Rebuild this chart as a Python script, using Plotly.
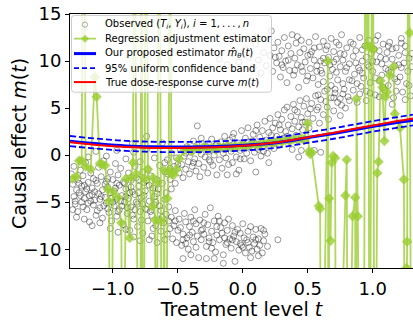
import plotly.graph_objects as go

# ---------------- data ----------------
obs_lower_left = [
    (-1.32,-2.0),(-1.31,-3.1),(-1.30,-4.4),(-1.30,-1.2),(-1.29,-5.2),(-1.28,-3.7),(-1.27,-2.6),(-1.27,-6.0),
    (-1.26,-4.0),(-1.25,-1.6),(-1.24,-3.3),(-1.24,-5.0),(-1.23,-2.2),(-1.22,-4.6),(-1.21,-0.8),(-1.21,-3.9),
    (-1.20,-5.8),(-1.19,-2.9),(-1.18,-4.3),(-1.18,-7.1),(-1.17,-1.9),(-1.16,-3.5),(-1.15,-5.3),(-1.15,-2.5),
    (-1.14,-4.8),(-1.13,-6.4),(-1.12,-3.0),(-1.11,-1.3),(-1.11,-4.1),(-1.10,-5.6),(-1.09,-2.3),(-1.08,-3.7),
    (-1.08,-6.7),(-1.07,-0.6),(-1.06,-4.5),(-1.05,-2.8),(-1.05,-5.1),(-1.04,-3.4),(-1.03,-6.1),(-1.02,-1.8),
    (-1.02,-4.0),(-1.01,-7.0),(-1.00,-2.6),(-0.99,-5.4),(-0.99,-3.8),(-0.98,-0.9),(-0.97,-4.7),(-0.97,-6.5),
    (-0.96,-2.1),(-0.95,-3.2),(-0.95,-5.8),(-0.94,-1.4),(-0.93,-4.3),(-0.92,-7.4),(-0.92,-2.9),(-0.91,-5.0),
    (-0.90,-0.4),(-0.90,-3.6),(-0.89,-6.2),(-0.88,-1.9),(-0.88,-4.6),(-0.87,-8.0),(-0.86,-2.7),(-0.86,-5.5),
    (-0.85,-3.9),(-0.84,0.3),(-0.84,-6.8),(-0.83,-1.2),(-0.83,-4.2),(-0.82,-2.4),(-0.81,-7.6),(-0.81,-5.2),
    (-0.80,-3.3),(-0.79,-0.7),(-0.79,-6.0),(-0.78,-4.5),(-0.77,-1.8),(-0.77,-8.3),(-0.76,-2.9),(-0.75,-5.7),
    (-0.75,-3.8),(-0.74,0.6),(-0.73,-7.0),(-0.73,-1.5),(-0.72,-4.9),(-0.71,-2.2),(-0.70,-6.4),(-0.70,-8.6),
    (-0.69,-3.5),(-0.68,-0.3),(-0.68,-5.3),(-0.67,-7.5),(-0.66,-2.6),(-0.66,-4.1),(-0.65,-6.9),(-0.64,-1.1),
    (-0.63,-8.1),(-0.63,-5.9),(-0.62,-3.0),(-0.61,-7.2),(-0.60,-0.8),(-0.60,-4.7),(-0.59,-6.3),(-0.58,-8.4),
    (-0.58,-2.0),(-0.57,-5.5),(-0.56,-7.8),(-0.56,-1.4),(-0.55,-3.6),
    (-1.29,-4.9),(-1.26,-3.0),(-1.23,-5.5),(-1.20,-3.6),(-1.17,-4.9),(-1.14,-3.9),(-1.12,-5.9),(-1.09,-4.4),
    (-1.06,-3.1),(-1.04,-5.7),(-1.01,-4.6),(-0.98,-3.5),(-0.96,-6.0),(-0.94,-4.9),(-0.91,-3.0),(-0.89,-5.6),
    (-0.87,-4.0),(-0.85,-6.4),(-0.82,-5.0),(-0.80,-2.6),(-0.78,-6.9),(-0.76,-4.3),(-0.74,-5.8),(-0.72,-3.2),
    (-0.69,-7.8),(-0.67,-5.0),(-0.65,-3.6),(-0.62,-6.6),(-0.59,-4.0),(-0.57,-7.0),
    (-1.25,-4.3),(-1.22,-3.2),(-1.19,-5.1),(-1.16,-4.2),(-1.13,-2.7),(-1.10,-4.7),(-1.07,-5.4),(-1.04,-2.5),
    (-1.00,-5.0),(-0.97,-3.0),(-0.93,-5.4),(-0.90,-4.4),(-0.86,-3.4),(-0.83,-5.8),(-0.80,-4.0),(-0.77,-5.2),
    (-0.74,-2.7),(-0.71,-6.0),(-0.68,-4.4),(-0.64,-5.4),(-1.31,-5.8),(-1.28,-6.6),(-1.22,-6.8),(-1.16,-7.5),
    (-1.10,-7.2),(-1.02,-7.8),(-0.96,-8.2),(-0.90,-7.9),(-0.84,-8.7),(-0.79,-9.1),(-0.72,-9.0),(-0.66,-9.3),
    (-0.60,-9.0),(-1.19,-0.2),(-1.13,0.4),(-1.05,-0.1),(-0.97,0.5),(-0.74,2.0),(-0.62,1.3),(-0.85,1.2),
]

obs_lower_band = [
    (-0.55,-6.6),(-0.54,-8.9),(-0.53,-7.5),(-0.52,-5.9),(-0.51,-9.3),(-0.50,-8.0),(-0.49,-6.8),(-0.48,-7.7),
    (-0.47,-9.6),(-0.46,-8.4),(-0.45,-6.2),(-0.44,-7.1),(-0.43,-8.8),(-0.42,-10.0),(-0.41,-7.6),(-0.40,-6.6),
    (-0.39,-8.2),(-0.38,-9.2),(-0.37,-5.8),(-0.36,-7.3),(-0.35,-8.6),(-0.34,-10.9),(-0.33,-6.9),(-0.32,-9.0),
    (-0.31,-7.9),(-0.30,-8.4),(-0.29,-6.3),(-0.28,-9.7),(-0.27,-7.4),(-0.26,-8.8),(-0.25,-5.6),(-0.24,-8.1),
    (-0.23,-9.3),(-0.22,-7.0),(-0.21,-10.3),(-0.20,-8.5),(-0.19,-6.5),(-0.18,-9.0),(-0.17,-7.7),(-0.16,-8.3),
    (-0.15,-10.6),(-0.14,-7.2),(-0.13,-9.5),(-0.12,-8.0),(-0.11,-6.8),(-0.10,-8.9),(-0.09,-9.9),(-0.08,-7.5),
    (-0.07,-8.6),(-0.06,-11.3),(-0.05,-9.2),(-0.04,-7.9),(-0.03,-10.1),(-0.02,-8.3),(-0.01,-9.6),(0.00,-7.3),
    (0.01,-8.8),(0.02,-10.4),(0.03,-9.0),(0.04,-8.1),(0.05,-9.8),(0.06,-7.6),(0.07,-10.2),(0.08,-8.7),
    (0.09,-9.4),(0.10,-7.9),(0.11,-10.0),(0.12,-8.9),(0.13,-9.6),(0.14,-7.8),(0.15,-10.4),(0.16,-9.1),
    (0.17,-8.4),(0.19,-9.7),(0.27,-9.0),
    (-0.46,-9.0),(-0.41,-8.5),(-0.36,-9.8),(-0.30,-7.2),(-0.24,-9.9),(-0.18,-7.0),(-0.12,-9.3),(-0.06,-8.2),
    (0.00,-9.8),(-0.28,-11.0),(-0.46,-11.0),(-0.15,-11.5),
    (-0.52,-7.0),(-0.44,-9.4),(-0.38,-7.0),(-0.32,-8.0),(-0.26,-9.2),(-0.20,-7.6),(-0.14,-8.8),(-0.08,-9.0),
    (-0.02,-9.4),(0.04,-9.3),(0.10,-9.0),(0.16,-8.0),(-0.40,-10.6),(-0.22,-11.0),(0.06,-10.9),(0.12,-10.7),
]

obs_middle_band = [
    (-0.60,-1.8),(-0.58,-0.5),(-0.56,-2.6),(-0.55,0.2),(-0.53,-1.2),(-0.52,-3.0),(-0.51,-0.3),(-0.49,-1.9),
    (-0.48,0.6),(-0.47,-1.0),(-0.46,-2.4),(-0.45,-0.1),(-0.44,-1.5),(-0.43,0.9),(-0.42,-0.7),(-0.41,-2.0),
    (-0.40,0.3),(-0.39,-1.2),(-0.38,1.5),(-0.37,-0.4),(-0.36,-1.7),(-0.35,3.1),(-0.35,0.7),(-0.34,-0.9),
    (-0.33,-2.3),(-0.32,0.1),(-0.31,1.2),(-0.30,-1.3),(-0.29,-0.2),(-0.28,0.9),(-0.27,-1.9),(-0.26,0.4),
    (-0.25,-0.7),(-0.24,1.7),(-0.23,-1.1),(-0.22,0.0),(-0.21,1.0),(-0.20,-2.1),(-0.19,0.6),(-0.18,-0.5),
    (-0.17,1.4),(-0.16,-1.4),(-0.15,0.2),(-0.14,2.0),(-0.13,-0.3),(-0.12,0.9),(-0.11,-1.0),(-0.10,1.6),
    (-0.09,0.4),(-0.08,-0.8),(-0.07,2.3),(-0.06,0.8),(-0.05,-0.2),(-0.04,1.3),(-0.03,-1.6),(-0.02,0.5),
    (-0.01,2.6),(0.00,1.0),(0.01,-0.4),(0.02,1.8),(0.03,0.2),(0.04,2.9),(0.05,0.9),(0.06,-0.6),
    (0.07,1.5),(0.08,2.2),(0.09,0.3),(0.10,1.2),(0.11,3.2),(0.12,0.6),(0.13,1.9),(0.14,-0.1),
    (0.15,2.6),(0.16,1.0),(0.17,3.6),(0.18,1.6),(0.19,0.2),(0.20,2.4),(0.21,3.9),(0.22,1.3),
    (0.23,2.9),(0.24,0.7),(0.25,3.4),(0.26,2.0),(0.27,4.3),(0.28,1.1),(0.29,2.7),(0.30,3.8),
    (0.31,1.8),(0.32,4.8),(0.33,2.5),(0.34,5.1),(0.35,3.2),(0.36,1.5),(0.37,4.1),(0.38,2.8),
    (0.39,5.4),(0.40,3.6),(0.41,2.1),(0.42,4.6),(0.43,3.0),(0.44,5.8),(0.45,4.0),(0.46,2.7),
    (0.47,5.2),(0.48,3.5),(0.49,6.0),(0.50,4.4),(0.51,2.9),(0.53,5.5),(0.54,3.9),(0.56,6.3),
    (0.57,4.8),(0.59,3.4),(0.60,5.9),(0.62,4.3),(0.63,6.8),(0.65,5.1),(0.66,3.8),(0.68,6.1),
    (0.70,4.7),(0.71,7.0),(0.73,5.6),(0.75,4.2),(0.77,6.5),(0.79,5.0),
    (0.45,0.5),(0.55,0.5),(0.60,0.3),(0.43,-0.2),(0.20,-0.8),(0.10,-1.8),(-0.05,-2.0),(-0.12,-2.1),
    (-0.50,-1.0),(-0.44,0.2),(-0.38,-0.8),(-0.32,1.8),(-0.26,-0.5),(-0.20,1.2),(-0.14,0.6),(-0.08,1.9),
    (-0.02,-0.4),(0.04,1.4),(0.10,2.6),(0.16,0.4),(0.22,2.1),(0.28,3.2),(0.34,2.0),(0.40,4.8),
    (0.46,3.5),(0.52,4.9),(0.58,5.1),(0.64,5.7),(0.70,6.1),(0.76,5.3),(0.82,5.8),(0.48,1.6),(0.38,0.6),
]

obs_upper_right = [
    (-0.18,10.2),(-0.12,9.6),(-0.08,10.8),(-0.03,9.9),(0.02,11.2),(0.05,10.4),(0.08,9.3),(0.10,11.8),
    (0.12,10.1),(0.14,8.7),(0.16,10.9),(0.18,9.5),(0.20,12.3),(0.21,10.6),(0.22,13.2),(0.23,8.9),
    (0.24,11.4),(0.26,9.8),(0.27,12.0),(0.28,10.5),(0.29,8.3),(0.30,11.1),(0.31,9.3),(0.32,12.5),
    (0.33,10.0),(0.34,7.7),(0.35,11.6),(0.36,9.0),(0.37,10.8),(0.38,12.8),(0.39,8.5),(0.40,10.3),
    (0.41,11.9),(0.42,9.6),(0.43,7.2),(0.44,10.9),(0.45,12.2),(0.46,8.9),(0.47,11.3),(0.48,9.9),
    (0.49,7.9),(0.50,10.6),(0.51,12.0),(0.52,9.2),(0.53,11.0),(0.54,8.2),(0.55,10.1),(0.56,12.6),
    (0.57,9.5),(0.58,7.5),(0.59,11.5),(0.60,10.0),(0.61,8.7),(0.62,12.1),(0.63,9.8),(0.64,11.2),
    (0.65,7.0),(0.66,10.4),(0.67,8.4),(0.68,12.4),(0.69,9.1),(0.70,11.0),(0.71,6.6),(0.72,10.2),
    (0.73,8.0),(0.74,11.7),(0.75,9.4),(0.76,12.8),(0.77,7.6),(0.78,10.7),(0.79,8.9),(0.80,11.4),
    (0.81,6.2),(0.82,9.7),(0.83,12.0),(0.84,7.9),(0.85,10.5),(0.86,8.6),(0.87,11.1),(0.88,5.6),
    (0.89,9.3),(0.90,12.5),(0.91,7.3),(0.92,10.0),(0.93,8.2),(0.94,11.6),(0.95,6.8),(0.96,9.6),
    (0.97,12.2),(0.98,7.7),(0.99,10.8),(1.00,8.9),(1.01,11.3),(1.02,6.4),(1.03,9.9),(1.04,12.7),
    (1.05,7.9),(1.06,10.4),(1.07,8.5),(1.08,11.8),(1.09,6.9),(1.10,9.2),(1.11,10.9),(1.12,7.4),
    (1.13,12.0),(1.14,8.8),(1.15,10.2),(1.16,6.1),(1.17,9.5),(1.18,11.4),(1.19,7.8),(1.20,10.6),
    (1.21,8.3),(1.22,11.9),(1.23,6.7),(1.24,9.8),(1.25,10.9),(1.26,7.6),(1.27,8.9),(1.28,10.3),
    (1.29,6.3),(1.30,9.4),
    (0.52,10.7),(0.57,8.9),(0.62,10.3),(0.67,9.6),(0.72,8.8),(0.77,10.1),(0.82,8.0),(0.87,9.8),
    (0.92,8.7),(0.97,9.4),(1.02,8.2),(1.07,9.7),(1.12,9.0),(1.17,8.1),(1.22,9.3),(0.85,6.9),
    (0.95,5.8),(1.05,6.2),(1.15,5.4),(1.25,5.9),(0.75,6.0),(0.90,6.5),
    (0.45,9.4),(0.50,8.4),(0.55,11.4),(0.60,9.0),(0.65,11.6),(0.70,9.9),(0.75,10.8),(0.80,9.3),
    (0.85,11.8),(0.90,9.0),(0.95,10.4),(1.00,10.0),(1.05,11.1),(1.10,10.2),(1.15,11.3),(1.20,9.6),
    (1.25,11.6),(1.30,10.8),(0.58,6.4),(0.68,7.4),(0.78,7.0),(0.88,7.6),(0.98,6.6),(1.08,7.2),
    (1.18,6.8),(1.28,7.4),(0.62,7.8),(0.92,11.2),(1.12,11.6),(0.40,9.0),(0.35,10.1),(0.30,9.6),
    (0.25,10.4),(0.42,12.6),(0.72,12.0),(1.02,12.2),(1.22,12.4),
]

# regression adjustment estimator (values beyond the axis range are clipped by the axes)
reg_adj = [
    (-1.31,-2.5),(-1.28,-2.3),(-1.26,-0.6),(-1.24,-0.6),(-1.225,40),(-1.21,-1.2),(-1.17,-1.5),(-1.14,8.3),
    (-1.125,6.2),(-1.10,-0.9),(-1.08,-1.0),(-1.06,-1.1),(-1.04,-3.6),(-1.03,-4.9),(-1.015,-40),(-1.00,-3.9),
    (-0.96,-4.5),(-0.935,-7.2),(-0.925,-40),(-0.90,-2.5),(-0.87,-8.8),(-0.86,-2.4),(-0.845,-0.8),(-0.835,40),
    (-0.82,-2.0),(-0.79,-40),(-0.78,40),(-0.77,-40),(-0.755,-2.5),(-0.745,40),(-0.73,-1.5),(-0.70,-5.5),
    (-0.69,-2.4),(-0.675,-6.9),(-0.665,-40),(-0.655,-2.9),(-0.645,40),(-0.63,-7.0),(-0.62,-40),(-0.605,-1.6),
    (-0.595,-40),(-0.58,-4.6),(-0.57,-1.7),(-0.56,40),(-0.55,-2.0),(-0.53,-2.1),(-0.51,-1.5),(-0.49,-0.4),
    (-0.45,0.5),(-0.42,0.7),(-0.39,0.4),(-0.36,0.8),(-0.33,0.6),(-0.30,0.9),(-0.27,0.7),(-0.24,0.8),
    (-0.21,0.6),(-0.18,0.9),(-0.15,0.8),(-0.12,1.0),(-0.09,0.8),(-0.06,1.0),(-0.03,0.9),(0.00,1.1),
    (0.03,0.9),(0.06,1.1),(0.09,1.2),(0.12,1.0),(0.15,1.3),(0.18,1.2),(0.21,1.4),(0.24,1.3),
    (0.27,1.5),(0.30,1.4),(0.33,1.6),(0.36,1.5),(0.39,1.7),(0.42,1.6),(0.45,1.8),
    (0.47,1.6),(0.50,3.4),(0.51,0.4),(0.52,0.1),(0.53,0.3),(0.585,-5.4),(0.595,-5.7),(0.605,-40),
    (0.655,10.0),(0.66,-40),(0.665,-4.6),(0.675,-9.1),(0.685,-0.8),(0.695,-0.1),(0.71,-0.3),(0.72,-40),
    (0.79,-4.3),(0.80,-0.5),(0.81,-40),(0.845,-6.5),(0.865,-4.5),(0.87,-40),(0.875,6.0),(0.885,-6.5),
    (0.905,-40),(0.93,-40),(0.945,40),(0.955,11.6),(0.965,40),(0.975,-40),(0.99,11.5),(1.00,40),
    (1.005,11.2),(1.015,-40),(1.035,-1.9),(1.045,-0.7),(1.06,7.9),(1.075,7.2),(1.09,1.5),(1.10,6.2),
    (1.11,6.7),(1.13,8.5),(1.16,9.4),(1.17,4.4),(1.21,2.9),(1.24,-2.6),(1.25,-40),(1.26,-12.0),
    (1.265,-9.2),(1.275,40),(1.285,13.0),(1.30,-40),
]

t_grid = [-1.33, -1.1, -0.9, -0.7, -0.5, -0.3, -0.1, 0.1, 0.3, 0.5, 0.7, 0.9, 1.1, 1.31]
est_curve = [1.47, 1.18, 0.98, 0.88, 0.85, 0.88, 0.97, 1.12, 1.40, 1.85, 2.30, 2.80, 3.28, 3.72]
upper_band = [2.03, 1.72, 1.52, 1.42, 1.40, 1.43, 1.52, 1.67, 1.95, 2.42, 2.86, 3.36, 3.84, 4.30]
lower_band = [0.95, 0.66, 0.45, 0.35, 0.31, 0.33, 0.42, 0.57, 0.85, 1.30, 1.74, 2.24, 2.72, 3.16]
true_curve = [1.36, 1.05, 0.86, 0.76, 0.75, 0.80, 0.92, 1.10, 1.42, 1.90, 2.38, 2.90, 3.40, 3.88]

x_ticks = [-1.0, -0.5, 0.0, 0.5, 1.0]
x_tick_text = ["\u22121.0", "\u22120.5", "0.0", "0.5", "1.0"]
y_ticks = [-10, -5, 0, 5, 10, 15]
y_tick_text = ["\u221210", "\u22125", "0", "5", "10", "15"]

legend_labels = [
    "Observed (<i>T<sub>i</sub></i>, <i>Y<sub>i</sub></i>), <i>i</i> = 1,\u2009.\u2009.\u2009.\u2009,\u2009<i>n</i>",
    "Regression adjustment estimator",
    "Our proposed estimator <i>m\u0302<sub>\u03b8</sub></i>(<i>t</i>)",
    "95% uniform confidence band",
    "True dose-response curve <i>m</i>(<i>t</i>)",
]
x_title = "Treatment level <i>t</i>"
y_title = "Causal effect <i>m</i>(<i>t</i>)"

# ---------------- styling ----------------
FONT = "DejaVu Sans"
GREEN = "rgba(154,205,50,0.8)"
OBS_COLOR = "rgba(20,20,20,0.55)"
W, H = 413, 320
ML, MR, MT, MB = 70, 0, 14, 43
PW, PH = W - ML - MR, H - MT - MB

def px_x(px):  # pixel -> paper x
    return (px - ML) / PW

def px_y(py):  # pixel -> paper y
    return (H - MB - py) / PH

# ---------------- figure ----------------
obs_all = obs_lower_left + obs_lower_band + obs_middle_band + obs_upper_right
obs_t = [p[0] for p in obs_all]
obs_y = [p[1] for p in obs_all]
reg_t = [p[0] for p in reg_adj]
reg_y = [p[1] for p in reg_adj]

fig = go.Figure()
fig.add_trace(go.Scatter(
    x=obs_t, y=obs_y, mode="markers", name=legend_labels[0],
    marker=dict(symbol="circle-open", size=6, color=OBS_COLOR, line=dict(width=0.8)),
))
fig.add_trace(go.Scatter(
    x=reg_t, y=reg_y, mode="lines+markers", name=legend_labels[1],
    line=dict(color=GREEN, width=1.8),
    marker=dict(symbol="diamond", size=8, color=GREEN),
))
fig.add_trace(go.Scatter(
    x=t_grid, y=est_curve, mode="lines", line_shape="spline", name=legend_labels[2],
    line=dict(color="#0000ff", width=3),
))
fig.add_trace(go.Scatter(
    x=t_grid, y=upper_band, mode="lines", line_shape="spline", name=legend_labels[3],
    line=dict(color="#0000ff", width=1.8, dash="6px,3px"),
))
fig.add_trace(go.Scatter(
    x=t_grid, y=lower_band, mode="lines", line_shape="spline", name=legend_labels[3],
    line=dict(color="#0000ff", width=1.8, dash="6px,3px"),
))
fig.add_trace(go.Scatter(
    x=t_grid, y=true_curve, mode="lines", line_shape="spline", name=legend_labels[4],
    line=dict(color="#ff0000", width=2),
))

# ---------------- legend box (matplotlib-like, compact) ----------------
bx0, bx1, by0, by1 = 71.5, 271.5, 15.5, 95.0
r = 3.0
rx, ry = r / PW, r / PH
X0, X1, Y0, Y1 = px_x(bx0), px_x(bx1), px_y(by1), px_y(by0)
box_path = (
    f"M {X0+rx},{Y1} L {X1-rx},{Y1} Q {X1},{Y1} {X1},{Y1-ry} "
    f"L {X1},{Y0+ry} Q {X1},{Y0} {X1-rx},{Y0} L {X0+rx},{Y0} "
    f"Q {X0},{Y0} {X0},{Y0+ry} L {X0},{Y1-ry} Q {X0},{Y1} {X0+rx},{Y1} Z"
)
shapes = [dict(type="path", xref="paper", yref="paper", path=box_path,
               fillcolor="rgba(255,255,255,0.8)", line=dict(color="#cccccc", width=1), layer="above")]

rows_py = [25.0, 39.5, 55.0, 70.0, 84.5]
sx0, sx1, sxm = px_x(74), px_x(96), px_x(85)
shapes.append(dict(type="circle", xref="paper", yref="paper", xsizemode="pixel", ysizemode="pixel",
                   xanchor=sxm, yanchor=px_y(rows_py[0]), x0=-2.6, x1=2.6, y0=-2.6, y1=2.6,
                   line=dict(color="rgba(30,30,30,0.45)", width=0.8), layer="above"))
shapes.append(dict(type="line", xref="paper", yref="paper", x0=sx0, x1=sx1,
                   y0=px_y(rows_py[1]), y1=px_y(rows_py[1]), line=dict(color=GREEN, width=1.8), layer="above"))
shapes.append(dict(type="path", xref="paper", yref="paper", xsizemode="pixel", ysizemode="pixel",
                   xanchor=sxm, yanchor=px_y(rows_py[1]), path="M 0,4 L 4,0 L 0,-4 L -4,0 Z",
                   fillcolor=GREEN, line=dict(width=0), layer="above"))
shapes.append(dict(type="line", xref="paper", yref="paper", x0=sx0, x1=sx1,
                   y0=px_y(rows_py[2]), y1=px_y(rows_py[2]), line=dict(color="#0000ff", width=3), layer="above"))
shapes.append(dict(type="line", xref="paper", yref="paper", x0=sx0, x1=sx1,
                   y0=px_y(rows_py[3]), y1=px_y(rows_py[3]),
                   line=dict(color="#0000ff", width=1.8, dash="5px,3px"), layer="above"))
shapes.append(dict(type="line", xref="paper", yref="paper", x0=sx0, x1=sx1,
                   y0=px_y(rows_py[4]), y1=px_y(rows_py[4]), line=dict(color="#ff0000", width=2), layer="above"))

annotations = [
    dict(xref="paper", yref="paper", x=px_x(102.5), y=px_y(py), xanchor="left", yanchor="middle",
         text=lab, showarrow=False, font=dict(size=10, family=FONT, color="black"))
    for lab, py in zip(legend_labels, rows_py)
]
# y-axis title placed like matplotlib's
annotations.append(dict(xref="paper", yref="paper", x=px_x(19), y=px_y(148.5), xanchor="center",
                        yanchor="middle", textangle=-90, text=y_title, showarrow=False,
                        font=dict(size=19, family=FONT, color="black")))

fig.update_layout(
    width=W, height=H,
    margin=dict(l=ML, r=MR, t=MT, b=MB),
    plot_bgcolor="white", paper_bgcolor="white",
    font=dict(family=FONT, color="black"),
    showlegend=False,
    shapes=shapes, annotations=annotations,
)
fig.update_xaxes(
    range=[-1.33, 1.31], tickvals=x_ticks, ticktext=x_tick_text,
    showgrid=False, zeroline=False, showline=True, mirror=True, linecolor="black", linewidth=1,
    ticks="outside", ticklen=4, tickcolor="black", tickfont=dict(size=18, family=FONT),
    title=dict(text=x_title, font=dict(size=19, family=FONT), standoff=8),
)
fig.update_yaxes(
    range=[-12, 15], tickvals=y_ticks, ticktext=y_tick_text,
    showgrid=False, zeroline=False, showline=True, linecolor="black", linewidth=1,
    ticks="outside", ticklen=4, tickcolor="black", tickfont=dict(size=18, family=FONT),
)

fig.write_html("out.html")
